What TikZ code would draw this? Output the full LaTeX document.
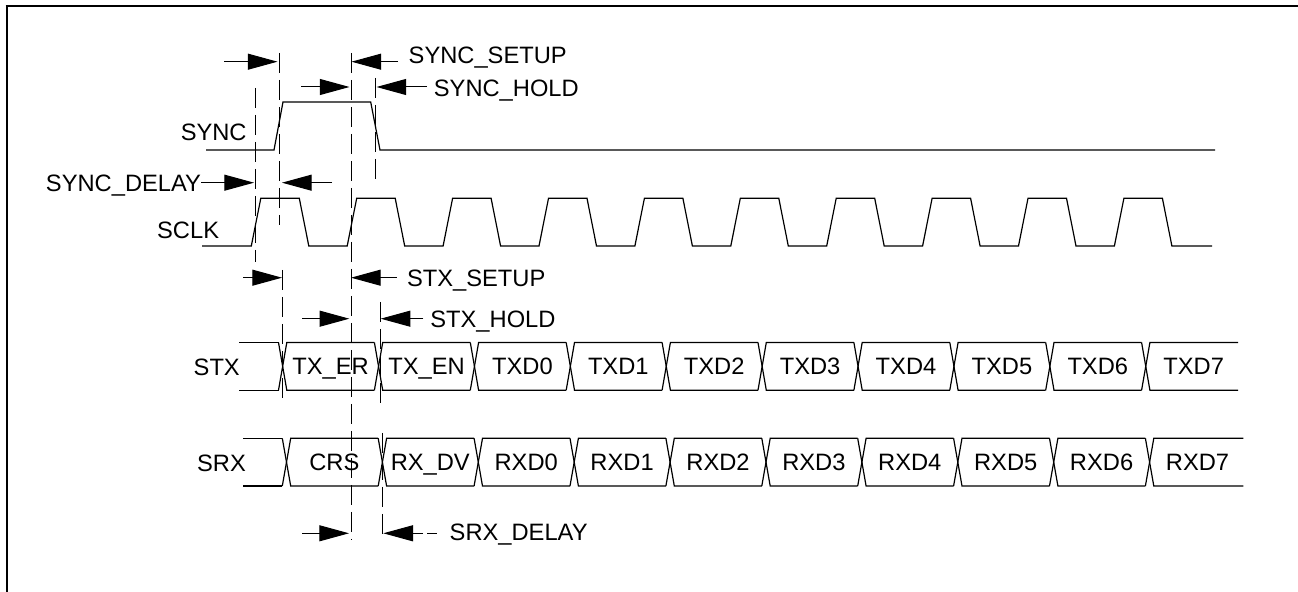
\documentclass[tikz,border=0pt]{standalone}
\usepackage{fontspec}
\setmainfont{Liberation Sans}
\usetikzlibrary{arrows.meta}
\begin{document}
\begin{tikzpicture}[x=0.5pt,y=-0.5pt,
  wave/.style={line width=0.6pt, line join=miter},
  vdash/.style={line width=0.5pt, dash pattern=on 10pt off 3.5pt},
  arr/.style={line width=0.5pt, -{Triangle[length=14.85pt,width=8pt]}},
  lbl/.style={inner sep=0pt, font=\fontsize{11.85}{14}\selectfont},
  frame/.style={line width=1pt}]
\useasboundingbox (0,0) rectangle (1298,592);
% frame (top and left edges only)
\draw[frame] (5.5,6.5) -- (1298,6.5);
\draw[frame] (6.5,5.5) -- (6.5,592);

% ---------- SYNC ----------
\node[lbl, anchor=base east] (lsync) at (247,140.1) {SYNC};
\draw[wave] (206,150) -- (274,150) -- (283,102) -- (370.7,102) -- (380,150) -- (1215,150);

% ---------- SCLK ----------
\node[lbl, anchor=base east] (lsclk) at (219.5,238.9) {SCLK};
\draw[wave] (202,246)
  foreach \k in {0,...,9} {
    -- ({251.3+95.9*\k},246) -- ({260.8+95.9*\k},198.3)
    -- ({299.3+95.9*\k},198.3) -- ({308.8+95.9*\k},246)
  } -- (1212,246);

% ---------- STX bus ----------
\node[lbl, anchor=base west] (lstx) at (193.3,375.1) {STX};
\draw[wave] (239.3,342.5) -- (278.5,342.5);
\draw[wave] (239.3,390.2) -- (278.5,390.2);
\foreach \k in {0,...,9} {
  \pgfmathsetmacro{\L}{278.5+95.9*\k}
  \pgfmathsetmacro{\R}{\L+8.3}
  \pgfmathsetmacro{\N}{ifthenelse(\k==9,1238,\L+95.9)}
  \draw[wave] (\L,342.5) -- (\R,390.2) -- (\N,390.2);
  \draw[wave] (\L,390.2) -- (\R,342.5) -- (\N,342.5);
}
\foreach \k/\t in {0/TX\_ER,1/TX\_EN,2/TXD0,3/TXD1,4/TXD2,5/TXD3,6/TXD4,7/TXD5,8/TXD6,9/TXD7} {
  \node[lbl, anchor=base] (tx\k) at ({330.6+95.9*\k},374.8) {\t};
}

% ---------- SRX bus ----------
\node[lbl, anchor=base west] (lsrx) at (196.7,471.1) {SRX};
\draw[wave] (243.3,438.3) -- (282.3,438.3);
\draw[wave] (243.3,486) -- (282.3,486);
\foreach \k in {0,...,9} {
  \pgfmathsetmacro{\L}{282.3+95.9*\k}
  \pgfmathsetmacro{\R}{\L+8.4}
  \pgfmathsetmacro{\N}{ifthenelse(\k==9,1243.3,\L+95.9)}
  \draw[wave] (\L,438.3) -- (\R,486) -- (\N,486);
  \draw[wave] (\L,486) -- (\R,438.3) -- (\N,438.3);
}
\foreach \k/\t in {0/CRS,1/RX\_DV,2/RXD0,3/RXD1,4/RXD2,5/RXD3,6/RXD4,7/RXD5,8/RXD6,9/RXD7} {
  \node[lbl, anchor=base] (rx\k) at ({334.4+95.9*\k},470.6) {\t};
}

% ---------- dashed reference lines ----------
\draw[vdash] (255.3,88) -- (255.3,262);
\draw[vdash] (279.3,53) -- (279.3,225);
\draw[vdash] (351,53) -- (351,540);
\draw[vdash] (375.5,78) -- (375.5,182);
\draw[vdash] (282.8,270) -- (282.8,404);
\draw[vdash] (380,302) -- (380,404);
\draw[vdash] (382.5,433) -- (382.5,540);

% ---------- timing arrows ----------
% SYNC_SETUP
\draw[arr] (224,61.7) -- (277.5,61.7);
\draw[arr] (398,61.7) -- (351.5,61.7);
\node[lbl, anchor=base west] (lsyncsetup) at (408.3,63.2) {SYNC\_SETUP};
% SYNC_HOLD
\draw[arr] (301,87) -- (349.5,87);
\draw[arr] (427,87) -- (376.5,87);
\node[lbl, anchor=base west] (lsynchold) at (433.5,96.4) {SYNC\_HOLD};
% SYNC_DELAY
\node[lbl, anchor=base west] (lsyncdelay) at (45.6,191.1) {SYNC\_DELAY};
\draw[arr] (lsyncdelay.east |- 0,182.7) -- (254,182.7);
\draw[arr] (332,182.7) -- (282,182.7);
% STX_SETUP
\draw[arr] (243.3,277.7) -- (282,277.7);
\draw[arr] (396.7,277.7) -- (351,277.7);
\node[lbl, anchor=base west] (lstxsetup) at (406.7,286.1) {STX\_SETUP};
% STX_HOLD
\draw[arr] (302.3,318.7) -- (349.3,318.7);
\draw[arr] (423.3,318.7) -- (380.7,318.7);
\node[lbl, anchor=base west] (lstxhold) at (430,327.1) {STX\_HOLD};
% SRX_DELAY
\draw[arr] (302.3,533.3) -- (349,533.3);
\draw[arr] (423,533.3) -- (383.3,533.3);
\draw[line width=0.5pt] (427,533.3) -- (437,533.3);
\node[lbl, anchor=base west] (lsrxdelay) at (449.3,540.5) {SRX\_DELAY};
\end{tikzpicture}
\end{document}
